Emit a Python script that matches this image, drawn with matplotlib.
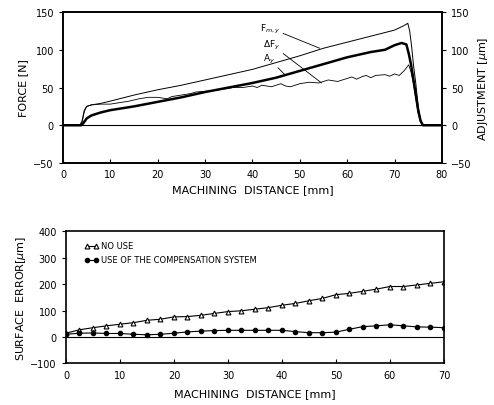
import matplotlib
matplotlib.use("Agg")
import matplotlib.pyplot as plt

plt.rcParams['font.family'] = ['DejaVu Sans']

# ---- top panel data (force / adjustment vs machining distance) ----
fm_x = [0, 3.5, 4, 4.5, 5, 6, 8, 10, 15, 20, 25, 30, 35, 40, 45, 50, 55, 60, 65, 70,
        72, 72.8, 73.2, 73.6, 74, 74.5, 75, 75.5, 76, 80]
fm_y = [0, 0, 5, 20, 25, 27, 29, 32, 40, 47, 53, 60, 67, 74, 83, 92, 102, 110, 118, 126,
        132, 135, 125, 105, 80, 55, 25, 5, 0, 0]

df_x = [0, 3.8, 4.2, 5, 6, 7, 8, 10, 15, 20, 25, 30, 35, 40, 45, 50, 55, 60, 65, 68, 70,
        71.5, 72.5, 73, 73.5, 74, 74.5, 75, 75.5, 76, 80]
df_y = [0, 0, 2, 9, 13, 15, 17, 20, 25, 31, 37, 44, 50, 56, 63, 72, 81, 90, 97, 100, 106,
        109, 107, 95, 80, 60, 40, 20, 6, 0, 0]

ay_x = [0, 3.9, 4.5, 5, 6, 8, 10, 12, 14, 16, 18, 20, 22, 23, 25, 27, 28, 30, 32, 34, 36,
        38, 40, 41, 42, 44, 46, 47, 48, 50, 52, 54, 55, 56, 58, 60, 61, 62, 63, 64, 65,
        66, 68, 69, 70, 71, 72, 73, 73.5, 74, 74.5, 75, 75.5, 76, 80]
ay_y = [0, 0, 18, 25, 27, 28, 28, 30, 32, 35, 37, 37, 35, 38, 40, 42, 44, 45, 46, 48, 50,
        50, 52, 50, 53, 51, 55, 52, 51, 55, 57, 56, 58, 60, 58, 62, 64, 61, 64, 66, 63,
        66, 67, 65, 68, 66, 72, 80, 70, 55, 35, 15, 4, 0, 0]

# ---- bottom panel data (surface error) ----
err_x = [0, 2.5, 5, 7.5, 10, 12.5, 15, 17.5, 20, 22.5, 25, 27.5, 30, 32.5, 35, 37.5, 40,
         42.5, 45, 47.5, 50, 52.5, 55, 57.5, 60, 62.5, 65, 67.5, 70]
no_use = [14, 27, 35, 42, 48, 54, 63, 67, 76, 77, 82, 89, 96, 99, 105, 111, 120,
          127, 137, 146, 160, 165, 173, 181, 191, 191, 197, 203, 209]
comp = [10, 14, 15, 13, 13, 10, 8, 10, 14, 19, 22, 24, 25, 25, 25, 25, 25,
        20, 16, 16, 18, 29, 39, 42, 46, 42, 38, 37, 35]

fig = plt.figure(figsize=(4.94, 4.06), dpi=100)

# top panel
ax1 = fig.add_axes([0.1275, 0.596, 0.767, 0.372])
ax1.plot(fm_x, fm_y, color='black', lw=0.7)
ax1.plot(df_x, df_y, color='black', lw=1.8)
ax1.plot(ay_x, ay_y, color='black', lw=0.6)
ax1.axhline(0, color='black', lw=0.8)
ax1.set_xlim(0, 80)
ax1.set_ylim(-50, 150)
ax1.set_xticks(range(0, 81, 10))
ax1.set_yticks([-50, 0, 50, 100, 150])
ax1.tick_params(axis='x', direction='in', length=3, labelsize=7, pad=4)
ax1.tick_params(axis='y', direction='out', length=3, labelsize=7)
ax1.set_xlabel('MACHINING  DISTANCE [mm]', fontsize=8, labelpad=4)
ax1.set_ylabel('FORCE [N]', fontsize=8, labelpad=4)

ax1r = ax1.twinx()
ax1r.set_ylim(-50, 150)
ax1r.set_yticks([-50, 0, 50, 100, 150])
ax1r.tick_params(axis='y', direction='out', length=3, labelsize=7)
ax1r.set_ylabel('ADJUSTMENT [$\\mu$m]', fontsize=8, labelpad=3)
for a in (ax1, ax1r):
    for s in a.spines.values():
        s.set_linewidth(1.2)

# curve labels with leader lines
lead = dict(arrowstyle='-', lw=0.6, color='black', shrinkA=0, shrinkB=0)
ax1.annotate('F$_{m,y}$', xy=(54.2, 102), xytext=(45.9, 128.6), fontsize=6.5,
             ha='right', va='center', arrowprops=lead)
ax1.annotate('$\\Delta$F$_y$', xy=(54.6, 56), xytext=(45.9, 106.6), fontsize=6.5,
             ha='right', va='center', arrowprops=lead)
ax1.annotate('A$_y$', xy=(47.0, 66), xytext=(44.8, 88), fontsize=6.5,
             ha='right', va='center', arrowprops=lead)

# bottom panel
ax2 = fig.add_axes([0.1336, 0.1027, 0.765, 0.325])
ax2.plot(err_x, no_use, color='black', lw=0.8, marker='^', ms=3.5,
         mfc='white', mec='black', mew=0.8, label='NO USE')
ax2.plot(err_x, comp, color='black', lw=0.8, marker='o', ms=3.2,
         mfc='black', mec='black', mew=0.8, label='USE OF THE COMPENSATION SYSTEM')
ax2.axhline(0, color='black', lw=0.8)
ax2.set_xlim(0, 70)
ax2.set_ylim(-100, 400)
ax2.set_xticks(range(0, 71, 10))
ax2.set_yticks([-100, 0, 100, 200, 300, 400])
ax2.tick_params(axis='x', direction='in', length=3, labelsize=7, pad=5)
ax2.tick_params(axis='y', direction='out', length=3, labelsize=7)
ax2.set_xlabel('MACHINING  DISTANCE [mm]', fontsize=8, labelpad=6)
ax2.set_ylabel('SURFACE  ERROR[$\\mu$m]', fontsize=8, labelpad=2)
for s in ax2.spines.values():
    s.set_linewidth(1.2)
ax2.legend(loc='upper left', frameon=False, fontsize=6, numpoints=2,
           handlelength=1.6, handletextpad=0.3, labelspacing=0.6,
           bbox_to_anchor=(0.03, 0.98))

fig.savefig('out.png', dpi=100)
